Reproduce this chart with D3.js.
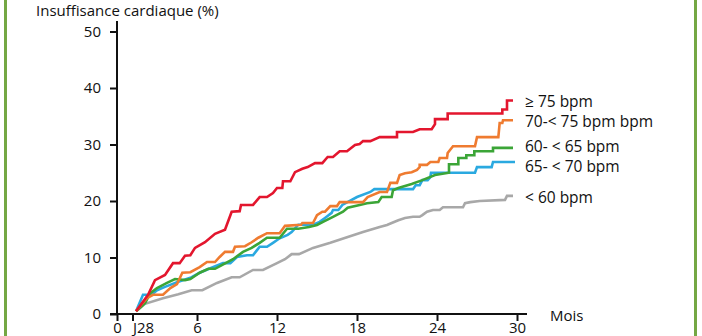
<!DOCTYPE html>
<html>
<head>
<meta charset="utf-8">
<script src="https://cdn.jsdelivr.net/npm/d3@7"></script>
<style>
  html, body { margin: 0; padding: 0; background: #fff; }
  svg { display: block; font-family: "Open Sans", "Noto Sans", sans-serif; }
</style>
</head>
<body>
<svg id="chart" width="702" height="336"></svg>
<script>
// Cumulative incidence of heart failure (%) by resting heart-rate group, months of follow-up
const seriesNames = ["≥ 75 bpm", "70-< 75 bpm bpm", "60- < 65 bpm", "65- < 70 bpm", "< 60 bpm"];
const seriesColors = ["#e3162e", "#ef7b30", "#3ba537", "#2aa9e0", "#a8a8a8"];

// [month, %] pairs
const hr75 = [
  [1.43,0.5],[2.33,3.4],[2.85,6.0],[3.6,6.9],[4.2,9.0],[4.7,9.0],[5.1,10.3],[5.5,10.4],
  [5.85,11.7],[6.6,12.7],[7.35,14.2],[8.1,14.9],[8.6,18.1],[9.2,18.2],[9.3,19.3],[10.2,19.3],
  [10.7,20.7],[11.25,20.7],[11.7,21.4],[12.0,22.3],[12.4,22.3],[12.45,23.5],[13.0,23.5],
  [13.35,25.1],[13.9,25.7],[14.3,26.0],[14.85,26.7],[15.4,26.7],[15.8,27.8],[16.2,27.8],
  [16.7,28.8],[17.25,28.8],[17.85,29.9],[18.2,30.1],[18.45,30.6],[19.0,30.6],[19.7,31.3],
  [21.0,31.3],[21.0,32.2],[22.2,32.2],[22.7,32.7],[23.6,32.7],[23.85,33.6],[23.85,34.5],
  [24.8,34.5],[24.8,35.5],[28.9,35.5],[28.9,36.2],[29.25,36.2],[29.25,37.8],[29.7,37.8]
];
const hr70 = [
  [1.43,0.5],[1.9,1.9],[2.25,2.8],[2.7,3.4],[3.45,3.4],[4.0,4.6],[4.5,5.3],[4.9,7.3],
  [5.5,7.4],[6.2,8.3],[6.75,9.2],[7.35,9.2],[7.7,10.1],[8.1,11.0],[8.7,11.0],[8.85,11.9],
  [9.6,12.0],[10.1,12.7],[10.6,13.5],[11.25,14.3],[12.2,14.3],[12.6,15.6],[13.8,15.8],
  [13.9,16.1],[14.7,16.1],[15.0,17.5],[15.4,18.1],[15.6,18.1],[16.0,19.1],[16.5,19.1],
  [16.7,19.8],[18.45,19.8],[18.8,20.7],[19.7,21.6],[20.25,21.6],[20.5,23.2],[21.0,23.2],
  [21.2,24.6],[21.6,24.9],[22.1,25.1],[22.5,25.5],[22.7,26.0],[22.7,26.4],[23.25,26.4],
  [23.5,26.9],[24.1,26.9],[24.2,27.6],[24.75,27.6],[24.8,28.5],[25.2,29.7],[26.85,29.7],
  [27.0,31.3],[28.6,31.3],[28.7,33.8],[28.9,33.8],[28.95,34.3],[29.7,34.3]
];
const hr60 = [
  [1.43,0.5],[1.73,1.1],[2.1,1.9],[2.5,3.7],[3.0,4.6],[3.75,5.5],[4.35,6.2],[5.1,6.0],
  [5.5,6.2],[6.2,7.3],[6.85,8.0],[7.35,8.0],[7.9,8.7],[8.7,9.7],[9.45,11.0],[10.1,11.7],
  [10.7,12.6],[11.25,13.5],[12.2,13.5],[12.75,15.1],[13.6,15.1],[14.4,15.4],[15.0,15.75],
  [15.45,16.3],[16.2,17.2],[16.95,18.1],[17.3,18.8],[18.2,19.3],[18.75,19.6],[19.6,19.8],
  [19.85,20.7],[20.6,20.7],[20.7,21.9],[21.1,22.3],[22.1,23.0],[22.9,23.7],[23.85,24.6],
  [24.9,25.0],[24.9,26.5],[25.6,26.5],[25.6,27.6],[26.2,27.6],[26.2,28.1],[26.8,28.1],
  [26.8,28.8],[28.2,28.8],[28.2,29.4],[29.7,29.4]
];
const hr65 = [
  [1.43,0.5],[1.95,3.4],[2.6,3.4],[3.0,4.2],[3.6,4.8],[4.6,5.7],[5.5,6.4],[6.2,7.3],
  [7.0,8.1],[7.95,9.0],[8.5,9.0],[9.0,10.1],[9.75,10.4],[10.2,10.4],[10.5,11.3],[10.7,11.9],
  [11.25,11.9],[11.7,12.6],[12.2,13.4],[12.8,14.0],[13.1,14.5],[13.6,15.8],[14.7,15.8],
  [15.2,16.3],[15.6,17.0],[16.1,17.9],[16.2,18.4],[16.6,18.4],[16.9,19.3],[18.0,20.7],
  [19.0,21.6],[19.3,22.1],[22.2,22.1],[22.4,22.8],[22.7,22.8],[22.9,23.7],[23.3,23.7],
  [23.5,24.2],[23.55,25.0],[26.85,25.0],[27.0,26.0],[28.1,26.0],[28.2,26.9],[29.85,26.9]
];
const hrBelow60 = [
  [1.43,0.5],[2.1,1.8],[3.45,2.8],[4.6,3.5],[5.6,4.2],[6.4,4.2],[7.5,5.5],[8.6,6.5],
  [9.2,6.5],[10.2,7.8],[10.95,7.8],[12.0,9.0],[12.6,9.7],[13.1,10.6],[13.65,10.6],
  [14.7,11.7],[16.0,12.6],[17.25,13.6],[18.45,14.5],[19.7,15.4],[20.25,15.75],[20.6,16.1],
  [21.1,16.6],[21.6,17.0],[22.2,17.2],[22.7,17.2],[22.9,17.5],[23.25,18.1],[23.7,18.4],
  [24.2,18.4],[24.45,18.9],[25.95,18.9],[26.1,19.6],[26.5,19.8],[27.2,20.0],[29.1,20.2],
  [29.25,20.9],[29.7,20.9]
];

const yTicks = [0, 10, 20, 30, 40, 50];
const xTicks = [0, 6, 12, 18, 24, 30];
const xTickLabels = ["0", "6", "12", "18", "24", "30"];
const j28Month = 1.2;
const j28Label = "J28";
const yTitle = "Insuffisance cardiaque (%)";
const xTitle = "Mois";

const series = [hr75, hr70, hr60, hr65, hrBelow60];
// legend rows sit next to each curve's end
const legendY = [107, 127, 152, 172, 203];

const svg = d3.select("#chart");
const x = d3.scaleLinear().domain([0, 30]).range([117, 517]);
const y = d3.scaleLinear().domain([0, 50]).range([314, 31.5]);

// frame lines on both sides
const frameColor = "#74a744";
svg.append("line").attr("x1", 5.5).attr("x2", 5.5).attr("y1", 0).attr("y2", 336)
  .attr("stroke", frameColor).attr("stroke-width", 3);
svg.append("line").attr("x1", 695.5).attr("x2", 695.5).attr("y1", 0).attr("y2", 336)
  .attr("stroke", frameColor).attr("stroke-width", 3);

// axis title
svg.append("text").attr("x", 36).attr("y", 16).attr("font-size", 15).attr("fill", "#111")
  .text(yTitle);

// y axis
const yAxis = d3.axisLeft(y).tickValues(yTicks).tickSize(7).tickPadding(9).tickFormat(d3.format("d"));
const gy = svg.append("g").attr("transform", "translate(117,0)").call(yAxis);
gy.select(".domain").remove();
gy.selectAll(".tick line").attr("stroke", "#111").attr("stroke-width", 2);
gy.selectAll(".tick text").attr("font-size", 15).attr("fill", "#111").attr("font-family", "Open Sans");
svg.append("line").attr("x1", 117).attr("x2", 117).attr("y1", 21).attr("y2", 315)
  .attr("stroke", "#111").attr("stroke-width", 2);

// x axis
const xAxis = d3.axisBottom(x).tickValues(xTicks).tickSize(7).tickPadding(1)
  .tickFormat((d, i) => xTickLabels[i]);
const gx = svg.append("g").attr("transform", "translate(0,314)").call(xAxis);
gx.select(".domain").remove();
gx.selectAll(".tick line").attr("stroke", "#111").attr("stroke-width", 2);
gx.selectAll(".tick text").attr("font-size", 15).attr("fill", "#111").attr("font-family", "Open Sans");
svg.append("line").attr("x1", 110).attr("x2", 527).attr("y1", 314).attr("y2", 314)
  .attr("stroke", "#111").attr("stroke-width", 2);
// day-28 marker
svg.append("line").attr("x1", x(j28Month)).attr("x2", x(j28Month)).attr("y1", 314).attr("y2", 321)
  .attr("stroke", "#111").attr("stroke-width", 2);
svg.append("text").attr("x", x(j28Month)).attr("y", 333).attr("font-size", 15).attr("fill", "#111")
  .text(j28Label);

svg.append("text").attr("x", 550).attr("y", 321).attr("font-size", 15).attr("fill", "#111")
  .text(xTitle);

// curves
const line = d3.line().x(d => x(d[0])).y(d => y(d[1]));
series.slice().reverse().forEach((s, k) => {
  const i = series.length - 1 - k;
  svg.append("path").datum(s).attr("d", line)
    .attr("fill", "none").attr("stroke", seriesColors[i]).attr("stroke-width", 2.6);
});

// labels
seriesNames.forEach((name, i) => {
  svg.append("text").attr("x", 525).attr("y", legendY[i]).attr("font-size", 15.5)
    .attr("fill", "#111").text(name);
});
</script>
</body>
</html>
